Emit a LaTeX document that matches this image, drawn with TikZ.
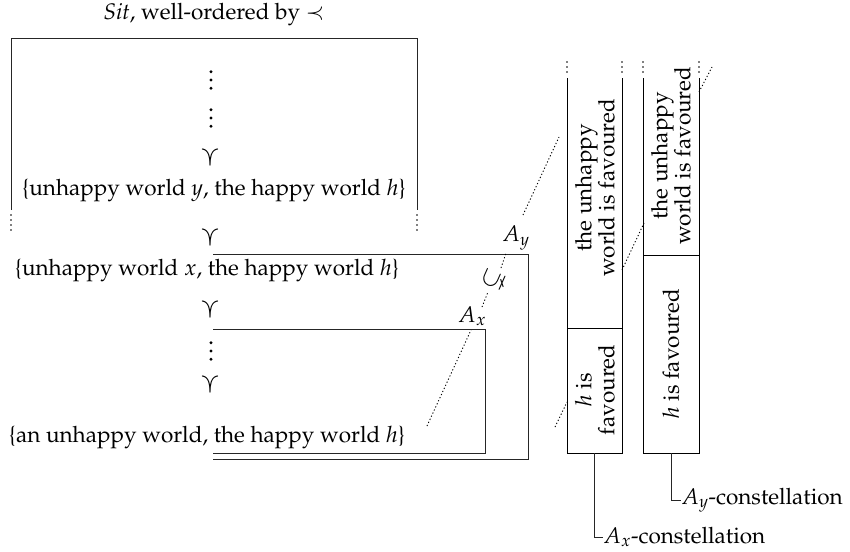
\documentclass[tikz,border=0pt]{standalone}
\usepackage[T1]{fontenc}
\usepackage{mathpazo}
\usepackage{amssymb}
\begin{document}
\begin{tikzpicture}[x=1pt,y=-1pt,
  txt/.style={font=\fontsize{22.5}{23}\selectfont, inner sep=0pt},
  coltxt/.style={txt, rotate=90, align=center},
  precsym/.style={font=\fontsize{27}{28}\selectfont, inner sep=0pt, rotate=90},
  frame/.style={line width=0.9pt, black!85},
  colline/.style={line width=1pt, black},
  dotline/.style={line width=0.9pt, dash pattern=on 1.2pt off 2.2pt},
  tinydots/.style={line width=1.7pt, line cap=round, dash pattern=on 0pt off 5pt},
  hook/.style={line width=0.8pt, black!85},
  vdotsnode/.style={minimum width=6pt, minimum height=22pt, inner sep=0pt,
    path picture={\foreach \k in {-8.3,0,8.3}{\fill ([yshift=\k pt]path picture bounding box.center) circle (1.6pt);}}}]
\useasboundingbox (0,0) rectangle (850,551);

% title and outer box
\node[txt] (title) at (214,15) {\textit{Sit}, well-ordered by $\prec$};
\coordinate (bl) at (11,210);
\coordinate (br) at (417,210);
\draw[frame] (bl) -- (11,38) -- (417,38) -- (br);
\draw[tinydots] (11,215) -- (11,232);
\draw[tinydots] (417,215) -- (417,232);

% the chain
\node[vdotsnode] (vd1) at (211,80) {};
\node[vdotsnode] (vd2) at (211,118) {};
\node[precsym] (p1) at (210,158) {$\prec$};
\node[txt] (wy) at (214,190) {\{unhappy world $y$, the happy world $h$\}};
\node[precsym] (p2) at (210,238) {$\prec$};
\node[txt] (wx) at (207,270) {\{unhappy world $x$, the happy world $h$\}};
\node[precsym] (p3) at (210,310) {$\prec$};
\node[vdotsnode] (vd3) at (211,351) {};
\node[precsym] (p4) at (210,385) {$\prec$};
\node[txt] (wa) at (207,437) {\{an unhappy world, the happy world $h$\}};

% A_y and A_x boxes
\draw[frame] (213,254) -- (528,254) -- (528,459) -- (213,459);
\draw[frame] (213,329) -- (485,329) -- (485,453) -- (213,453);
\node[txt] (Ay) at (516,238) {$A_y$};
\node[txt] (Ax) at (472,316) {$A_x$};
\node[font=\fontsize{25}{26}\selectfont, inner sep=0pt, rotate=66] (sub) at (494,280) {$\subsetneq$};

% dotted lines
\coordinate (d1a) at (427,426);
\coordinate (d1b) at (471,330);
\draw[dotline] (d1a) -- (d1b);
\coordinate (d2a) at (482,307);
\coordinate (d2b) at (488,292);
\coordinate (d2c) at (501,268);
\coordinate (d2d) at (506,253);
\draw[dotline] (d2a) -- (d2b);
\draw[dotline] (d2c) -- (d2d);
\coordinate (d3a) at (523,215);
\coordinate (d3b) at (559,137);
\draw[dotline] (d3a) -- (d3b);
\coordinate (d4a) at (555,427);
\coordinate (d4b) at (567,402);
\draw[dotline] (d4a) -- (d4b);
\coordinate (d5a) at (622,270);
\coordinate (d5b) at (644,223);
\draw[dotline] (d5a) -- (d5b);
\coordinate (d6a) at (699,92);
\coordinate (d6b) at (712,67);
\draw[dotline] (d6a) -- (d6b);

% column 1: A_x-constellation
\draw[colline] (567,78) -- (567,453) -- (622,453) -- (622,78);
\draw[colline] (567,328) -- (622,328);
\draw[tinydots] (567,62) -- (567,74);
\draw[tinydots] (622,62) -- (622,74);
\node[coltxt] (c1t) at (595,188) {the unhappy\\world is favoured};
\node[coltxt] (c1b) at (595,390) {$h$ is\\favoured};

% column 2: A_y-constellation
\draw[colline] (643,78) -- (643,453) -- (699,453) -- (699,78);
\draw[colline] (643,255) -- (699,255);
\draw[tinydots] (643,62) -- (643,74);
\draw[tinydots] (699,62) -- (699,74);
\node[coltxt] (c2t) at (671,156) {the unhappy\\world is favoured};
\node[coltxt] (c2b) at (671,354) {$h$ is favoured};

% labels
\coordinate (c1bot) at (594,453);
\coordinate (c2bot) at (671,453);
\node[txt, anchor=west] (lx) at (603,537) {$A_x$-constellation};
\node[txt, anchor=west] (ly) at (681,500) {$A_y$-constellation};
\draw[hook] (c1bot) |- (lx.west);
\draw[hook] (c2bot) |- (ly.west);
\end{tikzpicture}
\end{document}
